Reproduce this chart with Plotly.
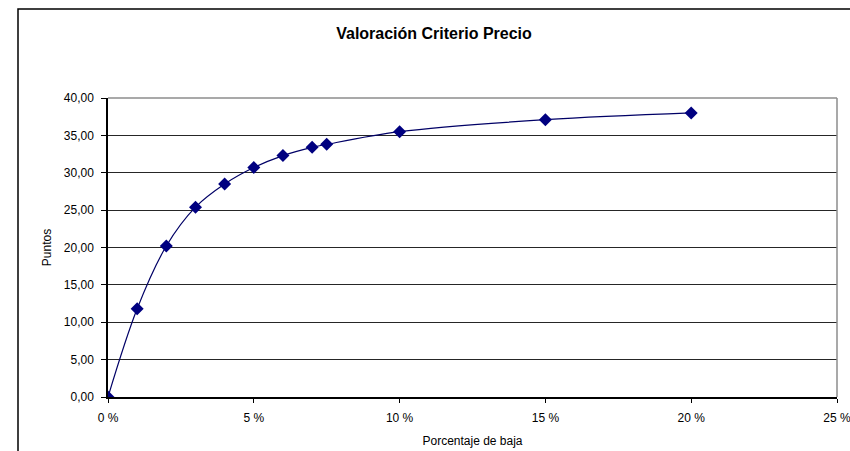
import plotly.graph_objects as go

# Price criterion scoring: points awarded vs. discount percentage
porcentaje_baja = [0, 1, 2, 3, 4, 5, 6, 7, 7.5, 10, 15, 20]
puntos = [0.0, 11.8, 20.2, 25.4, 28.5, 30.7, 32.3, 33.4, 33.8, 35.5, 37.1, 38.0]

x_ticks = [0, 5, 10, 15, 20, 25]
x_tick_labels = ["0 %", "5 %", "10 %", "15 %", "20 %", "25 %"]
y_ticks = [0, 5, 10, 15, 20, 25, 30, 35, 40]
y_tick_labels = ["0,00", "5,00", "10,00", "15,00", "20,00", "25,00", "30,00", "35,00", "40,00"]

W, H = 850, 451
ML, MR, MT, MB = 108, 13, 98, 54
pw, ph = W - ML - MR, H - MT - MB

font = "Liberation Sans, Arial, sans-serif"

fig = go.Figure()
fig.add_trace(go.Scatter(
    x=porcentaje_baja, y=puntos,
    mode="lines+markers",
    line=dict(color="#000066", width=1.2, shape="spline", smoothing=1.0),
    marker=dict(symbol="diamond", size=10, color="#000080"),
    showlegend=False, hoverinfo="x+y",
))

# chart frame (outer border) expressed in paper coordinates
def px_x(p):
    return (p - ML) / pw

def px_y(p):
    return (H - MB - p) / ph

shapes = [
    dict(type="rect", xref="paper", yref="paper",
         x0=px_x(18), x1=px_x(854), y0=px_y(455), y1=px_y(9),
         line=dict(color="#000000", width=1.5), layer="below"),
    # grey plot-area border on top and right
    dict(type="line", xref="paper", yref="paper", x0=0, x1=1, y0=1, y1=1,
         line=dict(color="#8c8c8c", width=1.5), layer="above"),
    dict(type="line", xref="paper", yref="paper", x0=1, x1=1, y0=0, y1=1,
         line=dict(color="#8c8c8c", width=1.5), layer="above"),
]

fig.update_layout(
    width=W, height=H,
    margin=dict(l=ML, r=MR, t=MT, b=MB, autoexpand=False),
    paper_bgcolor="white", plot_bgcolor="white",
    font=dict(family=font, size=12, color="#000000"),
    title=dict(text="<b>Valoración Criterio Precio</b>", x=px_x(434), xref="paper",
               xanchor="center", y=1 - 33 / H, yanchor="middle", yref="container",
               font=dict(size=16, family=font, color="#000000")),
    shapes=shapes,
    xaxis=dict(
        range=[0, 25], tickvals=x_ticks, ticktext=x_tick_labels,
        showgrid=False, zeroline=False,
        showline=True, linecolor="#000000", linewidth=1.5,
        ticks="outside", ticklen=4, tickcolor="#000000",
        tickfont=dict(size=12, family=font),
        ticklabelstandoff=5, ticklabeloverflow="allow",
        title=dict(text="Porcentaje de baja", font=dict(size=12, family=font), standoff=12),
        automargin=False,
        fixedrange=True,
    ),
    yaxis=dict(
        range=[0, 40], tickvals=y_ticks, ticktext=y_tick_labels,
        showgrid=True, gridcolor="#262626", gridwidth=1.2, zeroline=False,
        showline=True, linecolor="#000000", linewidth=1.5,
        ticks="outside", ticklen=5, tickcolor="#000000",
        tickfont=dict(size=12, family=font),
        ticklabelstandoff=5,
        title=dict(text="Puntos", font=dict(size=12, family=font), standoff=10),
        automargin=False,
        fixedrange=True,
    ),
)

fig.write_html("out.html")
